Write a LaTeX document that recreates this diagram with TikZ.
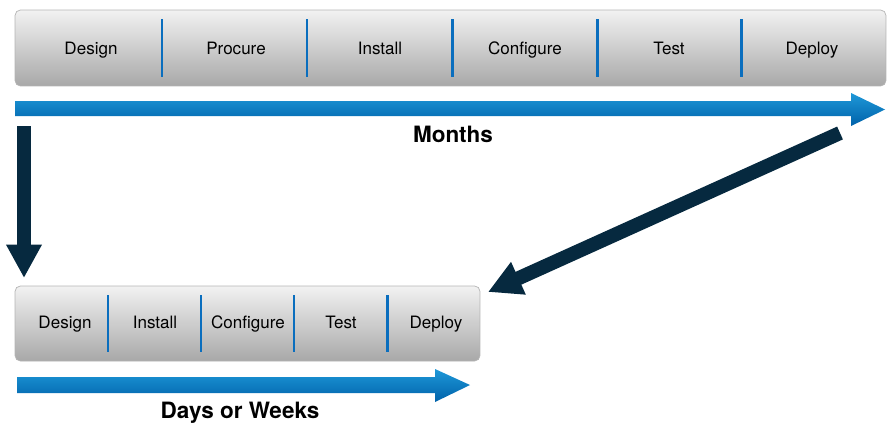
\documentclass[tikz,border=0pt]{standalone}
\usepackage{fontspec}
\setmainfont{TeX Gyre Heros}
\usetikzlibrary{positioning,arrows.meta,calc}
\definecolor{BoxTop}{HTML}{F2F2F2}
\definecolor{BoxBottom}{HTML}{A8A8A8}
\definecolor{BoxEdge}{HTML}{B4B4B4}
\definecolor{SepBlue}{HTML}{0A6EBE}
\definecolor{LineTop}{HTML}{1E98D8}
\definecolor{LineBottom}{HTML}{0062AA}
\definecolor{JumpNavy}{HTML}{06293F}

\begin{document}
\begin{tikzpicture}[
                    x=0.02cm, y=-0.02cm,
                    phasebox/.style={rectangle, rounded corners=3pt, draw=BoxEdge, top color=BoxTop, bottom color=BoxBottom, inner sep=0pt},
                    phase/.style={anchor=base, font=\fontsize{9.7}{11}\selectfont},
                    divider/.style={line width=1.7pt, SepBlue},
                    timeline/.style={top color=LineTop, bottom color=LineBottom},
                    jump/.style={line width=8pt, JumpNavy, -{Triangle[width=19pt,length=19pt]}},
                    caption/.style={anchor=base, font=\fontsize{12.8}{15}\selectfont\bfseries}
                ]
                    \useasboundingbox (0,0) rectangle (888,423);

                    % Long process
                    \node[phasebox, minimum width=17.42cm, minimum height=1.52cm] (slow) at (450.5,48) {};
                    \foreach \x in {162,307,452,597,741}
                        \draw[divider] (\x,19) -- (\x,77);
                    \foreach \name/\x in {Design/91, Procure/236, Install/380, Configure/525, Test/669, Deploy/812}
                        \node[phase] (slow-\name) at (\x,54) {\name};

                    % Timeline (months)
                    \shade[timeline] (15,101) -- (851,101) -- (851,93) -- (885,109.5) -- (851,126) -- (851,116) -- (15,116) -- cycle;
                    \node[caption] (months) at (453,142) {Months};

                    % Short process
                    \node[phasebox, minimum width=9.3cm, minimum height=1.5cm] (fast) at (247.5,323.5) {};
                    \foreach \x in {108,201,294,387}
                        \draw[divider] (\x,295) -- (\x,352);
                    \foreach \name/\x in {Design/65, Install/155, Configure/248, Test/341, Deploy/436}
                        \node[phase] (fast-\name) at (\x,328) {\name};

                    % Timeline (days)
                    \shade[timeline] (17,377) -- (435,377) -- (435,369) -- (470,385) -- (435,402) -- (435,393) -- (17,393) -- cycle;
                    \node[caption] (days) at (240,418) {Days or Weeks};

                    % Jumps from long to short
                    \coordinate (down-from) at (24,126);
                    \coordinate (down-to) at (24,278);
                    \coordinate (back-from) at (840,133);
                    \coordinate (back-to) at (488,292);
                    \draw[jump] (down-from) -- (down-to);
                    \draw[jump] (back-from) -- (back-to);
                \end{tikzpicture}
\end{document}
